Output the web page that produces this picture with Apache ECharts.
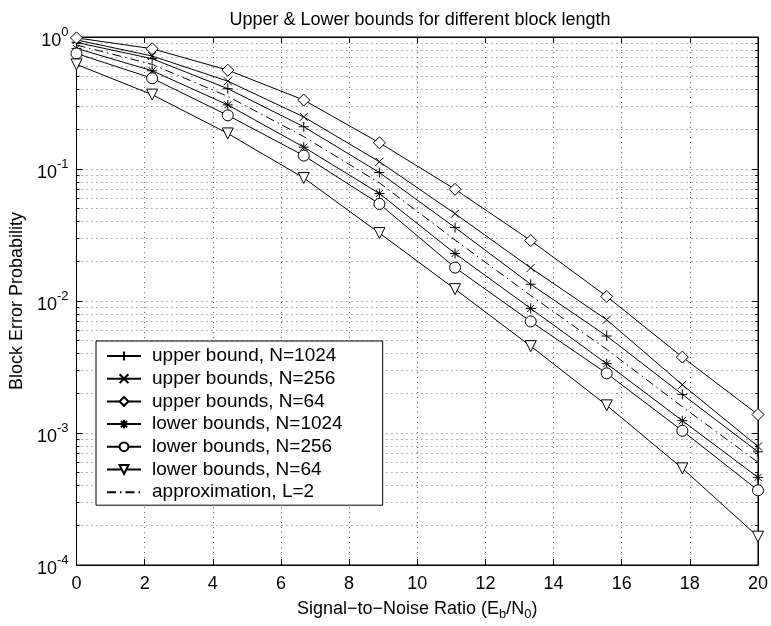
<!DOCTYPE html>
<html>
<head>
<meta charset="utf-8">
<script src="https://cdn.jsdelivr.net/npm/echarts@6/dist/echarts.min.js"></script>
<style>
  html, body { margin: 0; padding: 0; background: #fff; }
  #chart { width: 771px; height: 626px; }
</style>
</head>
<body>
<div id="chart"></div>
<script>
// Eb/N0 (dB)
const snr = [0, 2.22, 4.44, 6.67, 8.89, 11.11, 13.33, 15.56, 17.78, 20];

// block error probability
const upper1024 = [0.91, 0.685, 0.406, 0.209, 0.094, 0.036, 0.0134, 0.00543, 0.00196, 0.00072];
const upper256 = [0.95, 0.718, 0.463, 0.248, 0.1135, 0.0459, 0.0178, 0.00721, 0.00232, 0.00079];
const upper64 = [0.985, 0.815, 0.561, 0.333, 0.158, 0.0702, 0.0287, 0.01083, 0.00376, 0.00138];
const lower1024 = [0.82, 0.555, 0.306, 0.1465, 0.0652, 0.0229, 0.00878, 0.00335, 0.00124, 0.000461];
const lower256 = [0.75, 0.487, 0.255, 0.1264, 0.0544, 0.0179, 0.0070, 0.00283, 0.00104, 0.000368];
const lower64 = [0.62, 0.366, 0.186, 0.0855, 0.0327, 0.0123, 0.00455, 0.00162, 0.00054, 0.000164];
const approx = [0.87, 0.62, 0.355, 0.176, 0.0785, 0.029, 0.0110, 0.0043, 0.00158, 0.00060];

// minor grid values for the log axis (2..9 x 10^k)
const minorTicks = [
  0.0002, 0.0003, 0.0004, 0.0005, 0.0006, 0.0007, 0.0008, 0.0009,
  0.002, 0.003, 0.004, 0.005, 0.006, 0.007, 0.008, 0.009,
  0.02, 0.03, 0.04, 0.05, 0.06, 0.07, 0.08, 0.09,
  0.2, 0.3, 0.4, 0.5, 0.6, 0.7, 0.8, 0.9
];

const FONT = 'Liberation Sans, Arial, Helvetica, sans-serif';
const gridDots = { color: '#666', width: 1, type: [1, 4] };

function pairs(ys) {
  return snr.map((x, i) => [x, ys[i]]);
}

function makeSeries(name, ys, symbol, size, rotate) {
  return {
    name: name,
    type: 'line',
    data: pairs(ys),
    symbol: symbol,
    symbolSize: size,
    symbolRotate: rotate || 0,
    lineStyle: { color: '#000', width: 1 },
    itemStyle: { color: '#fff', borderColor: '#000', borderWidth: 1 },
    emphasis: { disabled: true },
    z: 3
  };
}

const plusPath = 'path://M5,0L5,10M0,5L10,5';
const crossPath = 'path://M0,0L10,10M10,0L0,10';
const starPath = 'path://M5,0L5,10M0,5L10,5M1.5,1.5L8.5,8.5M8.5,1.5L1.5,8.5';

// the approximation has no marker, so its legend sample is the dash-dot line only
const approxSeries = makeSeries('approximation, L=2', approx, 'none', 0);
approxSeries.showSymbol = false;
approxSeries.legendIcon = 'path://M0,0L0.01,0';
approxSeries.itemStyle = { color: 'rgba(0,0,0,0)', borderWidth: 0 };
approxSeries.lineStyle = { color: '#000', width: 1, type: [9, 4, 1.5, 4] };

let chart = echarts.init(document.getElementById('chart'));
chart.setOption({
  animation: false,
  backgroundColor: '#fff',
  textStyle: { fontFamily: FONT, color: '#000' },
  title: {
    text: 'Upper & Lower bounds for different block length',
    left: 415,
    top: 6,
    textAlign: 'center',
    textStyle: { fontFamily: FONT, fontSize: 18, fontWeight: 'normal', color: '#000' }
  },
  grid: {
    left: 72, right: 12, top: 37, bottom: 47,
    show: true, borderColor: '#000', borderWidth: 1
  },
  legend: {
    orient: 'vertical',
    left: 96,
    top: 341,
    padding: [5, 40, 3, 10],
    itemWidth: 34,
    itemHeight: 11,
    itemGap: 2.7,
    backgroundColor: '#fff',
    borderColor: '#000',
    borderWidth: 1,
    borderRadius: 0,
    textStyle: { fontFamily: FONT, fontSize: 19, color: '#000', lineHeight: 20, padding: [0, 0, 0, 6] }
  },
  xAxis: [
    {
      type: 'value',
      min: 0, max: 20, interval: 2,
      name: '{n|Signal\u2212to\u2212Noise Ratio (E}{s|b}{n|/N}{s|0}{n|)}',
      nameLocation: 'middle',
      nameGap: 33,
      nameTextStyle: {
        rich: {
          n: { fontFamily: FONT, fontSize: 18, color: '#000' },
          s: { fontFamily: FONT, fontSize: 13, color: '#000', padding: [10, 0, 0, 0] }
        }
      },
      axisLine: { show: true, lineStyle: { color: '#000' } },
      axisTick: { inside: true, length: 6, lineStyle: { color: '#000' } },
      axisLabel: { margin: 10, fontFamily: FONT, fontSize: 18, color: '#000' },
      splitLine: { show: true, lineStyle: gridDots }
    },
    {
      type: 'value',
      position: 'top',
      min: 0, max: 20, interval: 2,
      axisLine: { show: true, lineStyle: { color: '#000' } },
      axisTick: { inside: true, length: 6, lineStyle: { color: '#000' } },
      axisLabel: { show: false },
      splitLine: { show: false }
    }
  ],
  yAxis: [
    {
      type: 'log',
      logBase: 10,
      min: 0.0001, max: 1,
      position: 'left',
      name: 'Block Error Probability',
      nameLocation: 'middle',
      nameGap: 41,
      nameTextStyle: { fontFamily: FONT, fontSize: 18, color: '#000' },
      axisLine: { show: true, lineStyle: { color: '#000' } },
      axisTick: { inside: true, length: 6, lineStyle: { color: '#000' } },
      axisLabel: {
        margin: 8,
        formatter: function (v) {
          const e = Math.round(Math.log10(v));
          return '{b|10}{e|' + (e < 0 ? '-' + (-e) : e) + '}';
        },
        rich: {
          b: { fontFamily: FONT, fontSize: 18, color: '#000', padding: [8, 0, 0, 0] },
          e: { fontFamily: FONT, fontSize: 13, color: '#000', padding: [0, 0, 10, 0] }
        }
      },
      splitLine: { show: true, lineStyle: gridDots }
    },
    {
      type: 'log',
      logBase: 10,
      min: 0.0001, max: 1,
      position: 'left',
      axisLine: { show: false },
      axisTick: { inside: true, length: 3, customValues: minorTicks, lineStyle: { color: '#000' } },
      axisLabel: { show: false },
      splitLine: { show: true, lineStyle: gridDots }
    },
    {
      type: 'log',
      logBase: 10,
      min: 0.0001, max: 1,
      position: 'right',
      axisLine: { show: true, lineStyle: { color: '#000' } },
      axisTick: { inside: true, length: 6, lineStyle: { color: '#000' } },
      axisLabel: { show: false },
      splitLine: { show: false }
    },
    {
      type: 'log',
      logBase: 10,
      min: 0.0001, max: 1,
      position: 'right',
      axisLine: { show: false },
      axisTick: { inside: true, length: 3, customValues: minorTicks, lineStyle: { color: '#000' } },
      axisLabel: { show: false },
      splitLine: { show: false }
    }
  ],
  series: [
    makeSeries('upper bound, N=1024', upper1024, plusPath, 10),
    makeSeries('upper bounds, N=256', upper256, crossPath, 8),
    makeSeries('upper bounds, N=64', upper64, 'diamond', 12),
    makeSeries('lower bounds, N=1024', lower1024, starPath, 10),
    makeSeries('lower bounds, N=256', lower256, 'circle', 11),
    makeSeries('lower bounds, N=64', lower64, 'triangle', 11, 180),
    approxSeries
  ]
});
</script>
</body>
</html>
